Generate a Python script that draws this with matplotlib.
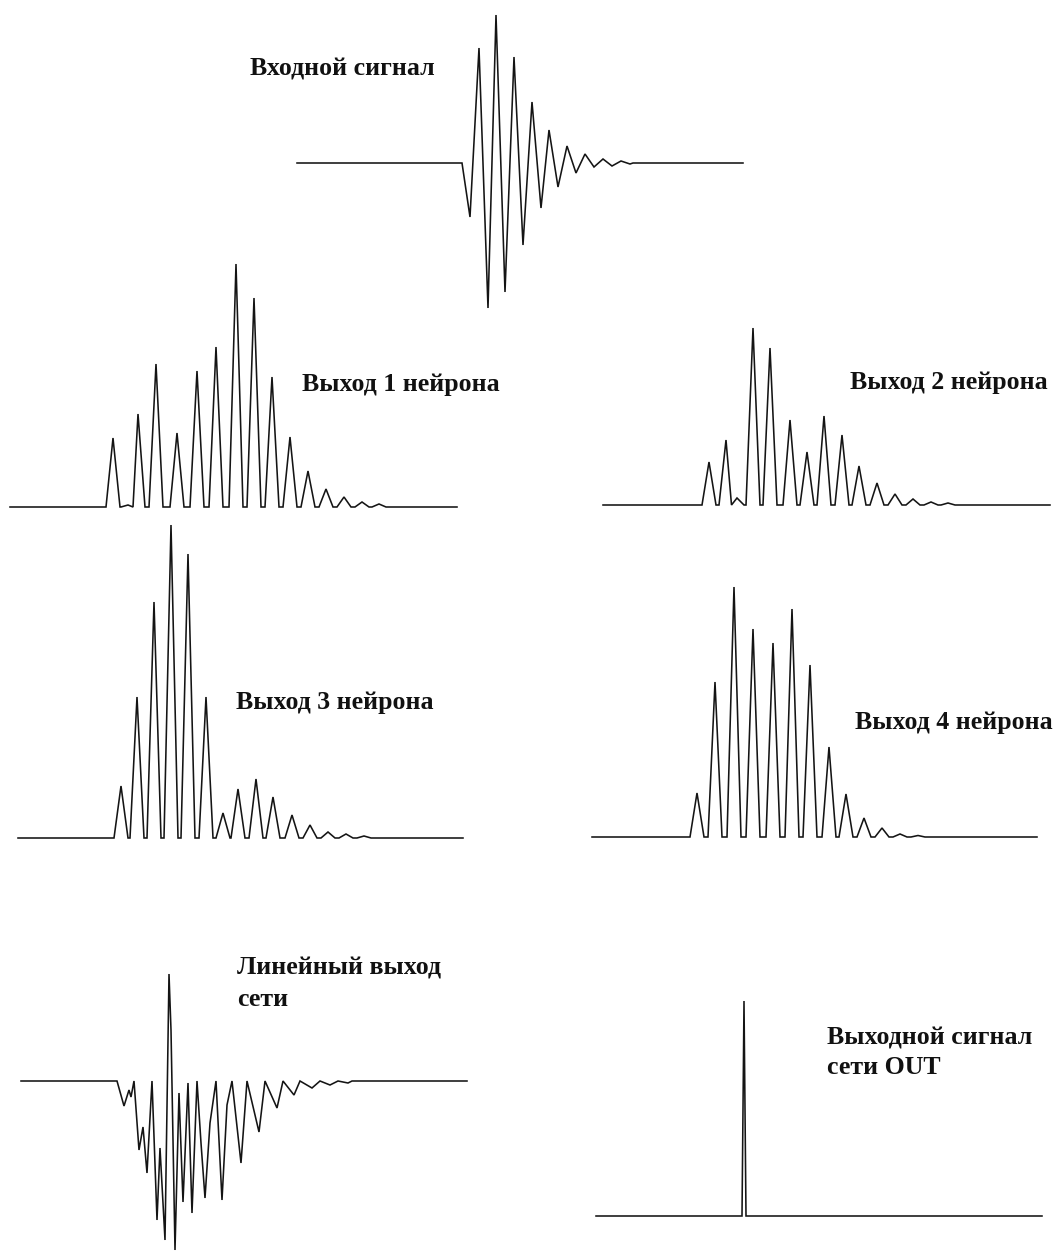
import matplotlib
matplotlib.use("Agg")
import matplotlib.pyplot as plt

# ---------------- data ----------------
# time in samples from the start of each trace, amplitude in arbitrary units (baseline = 0)

# input signal: extrema of a decaying oscillation
input_t = [0, 165, 173, 182, 191, 199, 208, 217, 226, 235, 244, 252, 261, 270,
           279, 288, 297, 306, 315, 324, 333, 336, 446]
input_v = [0, 0, -54, 115, -145, 148, -129, 106, -82, 61, -45, 33, -24, 17,
           -10, 9, -4, 4, -3, 2, -1, 0, 0]

# neuron outputs: peak times and peak heights
n1_t = [103, 118, 128, 146, 167, 187, 206, 226, 244, 262, 280, 298, 316, 334, 352, 369]
n1_h = [69, 2, 93, 143, 74, 136, 160, 243, 209, 130, 70, 36, 18, 10, 5, 3]
n1_len = 447

n2_t = [106, 123, 134, 150, 167, 187, 204, 221, 239, 256, 274, 292, 310, 328, 345]
n2_h = [43, 65, 7, 177, 157, 85, 53, 89, 70, 39, 22, 11, 6, 3, 2]
n2_len = 447

n3_t = [103, 119, 136, 153, 170, 188, 205, 220, 238, 255, 274, 292, 310, 328, 346]
n3_h = [52, 141, 236, 313, 284, 141, 25, 49, 59, 41, 23, 13, 6, 4, 2]
n3_len = 445

n4_t = [105, 123, 142, 161, 181, 200, 218, 237, 254, 272, 290, 308, 326]
n4_h = [44, 155, 250, 208, 194, 228, 172, 90, 43, 19, 9, 3, 1.5]
n4_len = 445

# linear network output: extrema
lin_t = [0, 96, 103, 108, 110, 113, 118, 122, 126, 131, 136, 139, 144, 148, 150, 154,
         158, 162, 167, 171, 176, 180, 184, 189, 195, 201, 206, 211, 220, 226, 238, 244,
         256, 262, 273, 279, 291, 299, 309, 317, 327, 331, 446]
lin_v = [0, 0, -25, -9, -16, 0, -69, -46, -92, 0, -139, -67, -159, 107, 51, -169,
         -12, -121, -2, -132, 0, -62, -117, -42, 0, -119, -24, 0, -82, 0, -51, 0,
         -27, 0, -14, 0, -7, 0, -4, 0, -2, 0, 0]

# final network output OUT
out_t = [0, 146, 147, 148, 149, 150, 446]
out_v = [0, 0, 107, 215, 107, 0, 0]

labels = {
    "input": ["Входной сигнал"],
    "n1": ["Выход 1 нейрона"],
    "n2": ["Выход 2 нейрона"],
    "n3": ["Выход 3 нейрона"],
    "n4": ["Выход 4 нейрона"],
    "lin": ["Линейный выход", "сети"],
    "out": ["Выходной сигнал", "сети OUT"],
}

# ---------------- layout (pixels) ----------------
W, H = 1054, 1255
# panel: (left x, baseline y)
layout = {
    "input": (297, 163),
    "n1": (10, 507),
    "n2": (603, 505),
    "n3": (18, 838),
    "n4": (592, 837),
    "lin": (21, 1081),
    "out": (596, 1216),
}
# label: (left x, first line centre y, line step)
label_pos = {
    "input": (250, 69, 0),
    "n1": (302, 385, 0),
    "n2": (850, 382, 0),
    "n3": (236, 703, 0),
    "n4": (855, 722, 0),
    "lin": (237, 968, 31),
    "out": (827, 1038, 30),
}

LINE_COLOR = "#141414"
LW = 1.15
HALF_WIDTH = 7.0
FONT = ["Liberation Serif", "DejaVu Serif"]
FONT_SIZE = 18.6


def pulse_train(t_peaks, heights, length, hw=HALF_WIDTH):
    xs, ys = [0.0], [0.0]
    n = len(t_peaks)
    for i, (t, a) in enumerate(zip(t_peaks, heights)):
        lg = t - t_peaks[i - 1] if i > 0 else 2 * hw
        rg = t_peaks[i + 1] - t if i < n - 1 else 2 * hw
        l = min(hw, lg / 2.0)
        r = min(hw, rg / 2.0)
        xs += [t - l, t, t + r]
        ys += [0.0, a, 0.0]
    xs.append(length)
    ys.append(0.0)
    return xs, ys


fig = plt.figure(figsize=(W / 100, H / 100), dpi=100)
fig.patch.set_facecolor("white")


def draw(key, xs, ys):
    x0, base = layout[key]
    length = max(xs)
    lo = min(min(ys), 0) - 6
    hi = max(max(ys), 0) + 6
    ax = fig.add_axes([x0 / W, (H - (base - lo)) / H, length / W, (hi - lo) / H])
    ax.set_xlim(0, length)
    ax.set_ylim(lo, hi)
    ax.axis("off")
    ax.plot(xs, ys, color=LINE_COLOR, lw=LW, solid_joinstyle="miter", clip_on=False)


draw("input", input_t, input_v)
draw("n1", *pulse_train(n1_t, n1_h, n1_len))
draw("n2", *pulse_train(n2_t, n2_h, n2_len))
draw("n3", *pulse_train(n3_t, n3_h, n3_len))
draw("n4", *pulse_train(n4_t, n4_h, n4_len))
draw("lin", lin_t, lin_v)
draw("out", out_t, out_v)

for key, lines in labels.items():
    px, py, step = label_pos[key]
    for i, s in enumerate(lines):
        fig.text(px / W, 1 - (py + i * step) / H, s, ha="left", va="center",
                 fontsize=FONT_SIZE, fontweight="bold", family=FONT, color="#111111")

fig.savefig("out.png", dpi=100, facecolor="white")
